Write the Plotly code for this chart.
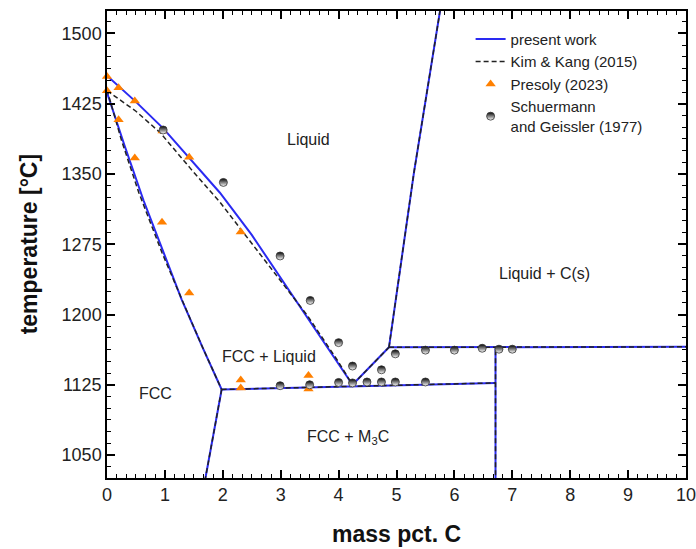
import plotly.graph_objects as go

# ---------------- data ----------------
# present work (blue)
liq_x = [0.0, 0.5, 0.975, 1.44, 1.95, 2.5, 3.0, 3.5, 4.0, 4.24]
liq_T = [1455, 1427, 1398.5, 1366, 1330, 1285, 1239, 1194, 1148, 1125]
sol_x = [0.0, 0.3, 0.63, 1.0, 1.29, 1.65, 1.98]
sol_T = [1437, 1381, 1322, 1262, 1216, 1165, 1120]
# Kim & Kang (2015) (dashed) where it differs
kk_liq_x = [0.0, 0.5, 0.92, 1.44, 1.95, 2.5, 3.0, 3.46, 3.97, 4.24]
kk_liq_T = [1439, 1417, 1394, 1356, 1320, 1276, 1236, 1199, 1152, 1125]
kk_sol_x = [0.0, 0.25, 0.55, 0.95, 1.3, 1.65, 1.98]
kk_sol_T = [1440, 1386, 1330, 1266, 1215, 1165, 1120]
# shared boundaries
acm_x = [1.98, 1.69]
acm_T = [1120, 1022]
eut_x = [1.98, 6.71]
eut_T = [1120, 1127]
cem_x = [6.71, 6.71]
cem_T = [1020, 1165]
gr_low_x = [4.24, 4.87]
gr_low_T = [1125, 1165]
gr_hor_x = [4.87, 10.0]
gr_hor_T = [1165, 1165.5]
gr_liq_x = [4.87, 5.30, 5.78]
gr_liq_T = [1165, 1351, 1535]

# Presoly (2023)
pres_x = [0.0, 0.0, 0.2, 0.2, 0.48, 0.48, 0.96, 0.95, 1.42, 1.42, 2.31, 2.31, 2.31, 3.48, 3.48]
pres_T = [1454, 1439, 1442, 1408, 1428, 1367, 1396, 1298.5, 1368, 1223, 1288, 1130, 1121.5, 1135, 1120.5]
# Schuermann and Geissler (1977)
sch_x = [0.97, 2.01, 2.99, 3.51, 4.0, 4.24, 4.74, 4.98, 5.5, 6.0, 6.48, 6.77, 7.0,
         2.99, 3.5, 4.0, 4.24, 4.49, 4.74, 4.98, 5.5]
sch_T = [1397, 1341, 1262.5, 1215, 1170, 1145, 1141, 1158, 1162, 1162, 1164, 1163, 1163,
         1124, 1125, 1127.5, 1127, 1128, 1128, 1128, 1128]

x_ticks = [0, 1, 2, 3, 4, 5, 6, 7, 8, 9, 10]
y_ticks = [1050, 1125, 1200, 1275, 1350, 1425, 1500]

labels = ["Liquid", "Liquid + C(s)", "FCC + Liquid", "FCC", "FCC + M<sub>3</sub>C"]
label_x = [3.48, 7.55, 2.79, 0.83, 4.17]
label_T = [1387, 1244, 1155, 1116, 1069]

# ---------------- figure ----------------
BLUE = "#2a2af2"
FONT = "Liberation Sans, Arial, sans-serif"
fig = go.Figure()

blue_segs = [(liq_x, liq_T), (sol_x, sol_T), (acm_x, acm_T), (eut_x, eut_T), (cem_x, cem_T),
             (gr_low_x, gr_low_T), (gr_hor_x, gr_hor_T), (gr_liq_x, gr_liq_T)]
dash_segs = [(kk_liq_x, kk_liq_T), (kk_sol_x, kk_sol_T), (acm_x, acm_T), (eut_x, eut_T),
             (cem_x, cem_T), (gr_low_x, gr_low_T), (gr_hor_x, gr_hor_T), (gr_liq_x, gr_liq_T)]

for i, (xs, ys) in enumerate(blue_segs):
    fig.add_trace(go.Scatter(x=xs, y=ys, mode="lines", line=dict(color=BLUE, width=2),
                             name="present work", legendgroup="pw", showlegend=(i == 0)))
for i, (xs, ys) in enumerate(dash_segs):
    fig.add_trace(go.Scatter(x=xs, y=ys, mode="lines",
                             line=dict(color="#222222", width=1.5, dash="5px,3px"),
                             name="Kim & Kang (2015)", legendgroup="kk", showlegend=(i == 0)))

fig.add_trace(go.Scatter(x=pres_x, y=pres_T, mode="markers", name="Presoly (2023)",
                         marker=dict(symbol="triangle-up", size=9, color="#ff8000"),
                         cliponaxis=False))
fig.add_trace(go.Scatter(x=sch_x, y=sch_T, mode="markers",
                         name="Schuermann<br>and Geissler (1977)",
                         marker=dict(symbol="circle", size=8, color="black",
                                     gradient=dict(type="vertical", color="white"),
                                     line=dict(color="#333333", width=0.8))))

for t, x, y in zip(labels, label_x, label_T):
    fig.add_annotation(x=x, y=y, text=t, showarrow=False,
                       font=dict(family=FONT, size=16, color="#222222"))

# axis titles
fig.add_annotation(xref="paper", yref="paper", x=0.5, y=-0.12, text="<b>mass pct. C</b>",
                   showarrow=False, xanchor="center", yanchor="middle",
                   font=dict(family=FONT, size=23, color="#111111"))
fig.add_annotation(xref="paper", yref="paper", x=-0.135, y=0.5, text="<b>temperature [°C]</b>",
                   showarrow=False, xanchor="center", yanchor="middle", textangle=-90,
                   font=dict(family=FONT, size=23, color="#111111"))

axis_common = dict(showline=True, linecolor="black", linewidth=1.5, mirror="ticks",
                   ticks="inside", ticklen=8, tickwidth=1.5, tickcolor="black",
                   showgrid=False, zeroline=False, automargin=False, ticklabeloverflow="allow",
                   tickfont=dict(family=FONT, size=18, color="#222222"))

fig.update_xaxes(range=[0, 10], tickvals=x_ticks,
                 minor=dict(dtick=1/6, ticks="inside", ticklen=4, tickwidth=1.2, tickcolor="black"),
                 **axis_common)
fig.update_yaxes(range=[1025.5, 1524], tickvals=y_ticks,
                 minor=dict(tick0=1050, dtick=12.5, ticks="inside", ticklen=4, tickwidth=1.2,
                            tickcolor="black"),
                 **axis_common)

fig.update_layout(
    width=696, height=549,
    margin=dict(l=107, r=10, t=11, b=71),
    plot_bgcolor="white", paper_bgcolor="white",
    font=dict(family=FONT),
    legend=dict(x=0.628, y=0.975, xanchor="left", yanchor="top",
                font=dict(family=FONT, size=15, color="#222222"),
                bgcolor="rgba(0,0,0,0)", itemwidth=30, tracegroupgap=0),
)

fig.write_html("out.html")
